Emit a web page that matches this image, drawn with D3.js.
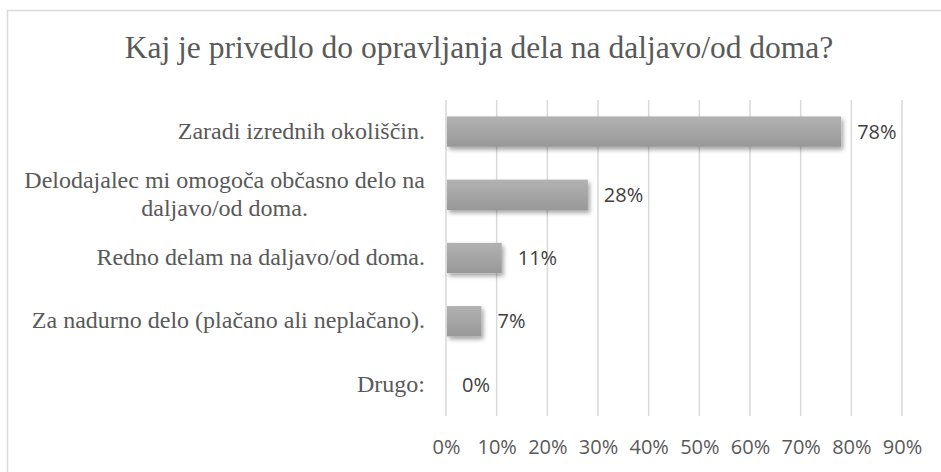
<!DOCTYPE html>
<html>
<head>
<meta charset="utf-8">
<script src="https://cdn.jsdelivr.net/npm/d3@7"></script>
<style>
  body { margin: 0; background: #fff; }
  svg { display: block; }
</style>
</head>
<body>
<div id="viz"></div>
<script>
// data
const categories = [
  'Zaradi izrednih okoliščin.',
  'Delodajalec mi omogoča občasno delo na daljavo/od doma.',
  'Redno delam na daljavo/od doma.',
  'Za nadurno delo (plačano ali neplačano).',
  'Drugo:'
];
const labelLines = [
  ['Zaradi izrednih okoliščin.'],
  ['Delodajalec mi omogoča občasno delo na', 'daljavo/od doma.'],
  ['Redno delam na daljavo/od doma.'],
  ['Za nadurno delo (plačano ali neplačano).'],
  ['Drugo:']
];
const values = [78, 28, 11, 7, 0];
const tickValues = [0, 10, 20, 30, 40, 50, 60, 70, 80, 90];
const title = 'Kaj je privedlo do opravljanja dela na daljavo/od doma?';

const width = 941;
const height = 472;
const margin = { top: 100, right: 39, bottom: 56, left: 446 };
const boundedWidth = width - margin.left - margin.right;
const boundedHeight = height - margin.top - margin.bottom;

const svg = d3.select('#viz')
  .append('svg')
  .attr('width', width)
  .attr('height', height);

// gradient + shadow for the bars
const defs = svg.append('defs');
const grad = defs.append('linearGradient')
  .attr('id', 'barGrad')
  .attr('x1', 0).attr('x2', 0).attr('y1', 0).attr('y2', 1);
grad.append('stop').attr('offset', '0%').attr('stop-color', '#b2b2b2');
grad.append('stop').attr('offset', '100%').attr('stop-color', '#989898');

const shadow = defs.append('filter')
  .attr('id', 'shadow')
  .attr('x', '-10%').attr('y', '-20%')
  .attr('width', '130%').attr('height', '160%');
shadow.append('feDropShadow')
  .attr('dx', 2).attr('dy', 3)
  .attr('stdDeviation', 2)
  .attr('flood-color', '#000')
  .attr('flood-opacity', 0.35);

// chart frame
svg.append('rect')
  .attr('x', 7.5).attr('y', 10.5)
  .attr('width', 960).attr('height', 500)
  .attr('fill', 'none')
  .attr('stroke', '#d9d9d9')
  .attr('stroke-width', 1.5);

svg.append('text')
  .attr('x', 479)
  .attr('y', 58)
  .attr('text-anchor', 'middle')
  .attr('font-family', '"Liberation Serif", "Times New Roman", serif')
  .attr('font-size', 31.5)
  .attr('fill', '#595959')
  .text(title);

const viz = svg.append('g')
  .attr('transform', `translate(${margin.left}, ${margin.top})`);

/* ===== SCALES ===== */
const xScale = d3.scaleLinear()
  .domain([0, 90])
  .range([0, boundedWidth]);

const yScale = d3.scaleBand()
  .domain(categories)
  .range([0, boundedHeight])
  .paddingInner(0.52)
  .paddingOuter(0.26);

// gridlines
viz.append('g')
  .selectAll('line')
  .data(tickValues)
  .join('line')
  .attr('x1', d => xScale(d))
  .attr('x2', d => xScale(d))
  .attr('y1', 0)
  .attr('y2', boundedHeight)
  .attr('stroke', '#d9d9d9')
  .attr('stroke-width', 1.5);

// x axis labels
const xAxis = d3.axisBottom(xScale)
  .tickValues(tickValues)
  .tickFormat(d => d + '%')
  .tickSize(0)
  .tickPadding(24);

const xAxisG = viz.append('g')
  .attr('transform', `translate(0, ${boundedHeight})`)
  .call(xAxis);
xAxisG.select('.domain').remove();
xAxisG.selectAll('text')
  .attr('font-family', '"Open Sans", sans-serif')
  .attr('font-size', 20)
  .attr('fill', '#595959');

// bars
viz.append('g')
  .selectAll('rect')
  .data(values)
  .join('rect')
  .attr('x', xScale(0) + 1)
  .attr('y', (d, i) => yScale(categories[i]))
  .attr('width', d => Math.max(0, xScale(d) - xScale(0) - 1))
  .attr('height', yScale.bandwidth())
  .attr('fill', 'url(#barGrad)')
  .attr('filter', 'url(#shadow)');

// value labels
viz.append('g')
  .selectAll('text')
  .data(values)
  .join('text')
  .attr('x', d => xScale(d) + 16)
  .attr('y', (d, i) => yScale(categories[i]) + yScale.bandwidth() / 2)
  .attr('dy', '0.36em')
  .attr('font-family', '"Open Sans", sans-serif')
  .attr('font-size', 20)
  .attr('fill', '#404040')
  .text(d => d + '%');

// category labels (wrapped ones are centred on their own block)
const catG = viz.append('g')
  .selectAll('g')
  .data(labelLines)
  .join('g')
  .attr('transform', (d, i) => `translate(-21, ${yScale(categories[i]) + yScale.bandwidth() / 2})`);

catG.each(function (lines) {
  const g = d3.select(this);
  const lineH = 28.7;
  const t = g.append('text')
    .attr('font-family', '"Liberation Serif", "Times New Roman", serif')
    .attr('font-size', 24)
    .attr('fill', '#595959')
    .attr('text-anchor', lines.length > 1 ? 'middle' : 'end');
  lines.forEach((line, k) => {
    t.append('tspan')
      .attr('x', 0)
      .attr('y', (k - (lines.length - 1) / 2) * lineH)
      .attr('dy', '0.3em')
      .text(line);
  });
  if (lines.length > 1) {
    // shift the centred block so its widest line ends at the label edge
    const w = t.node().getBBox().width;
    t.attr('transform', `translate(${-w / 2}, 0)`);
  }
});
</script>
</body>
</html>
